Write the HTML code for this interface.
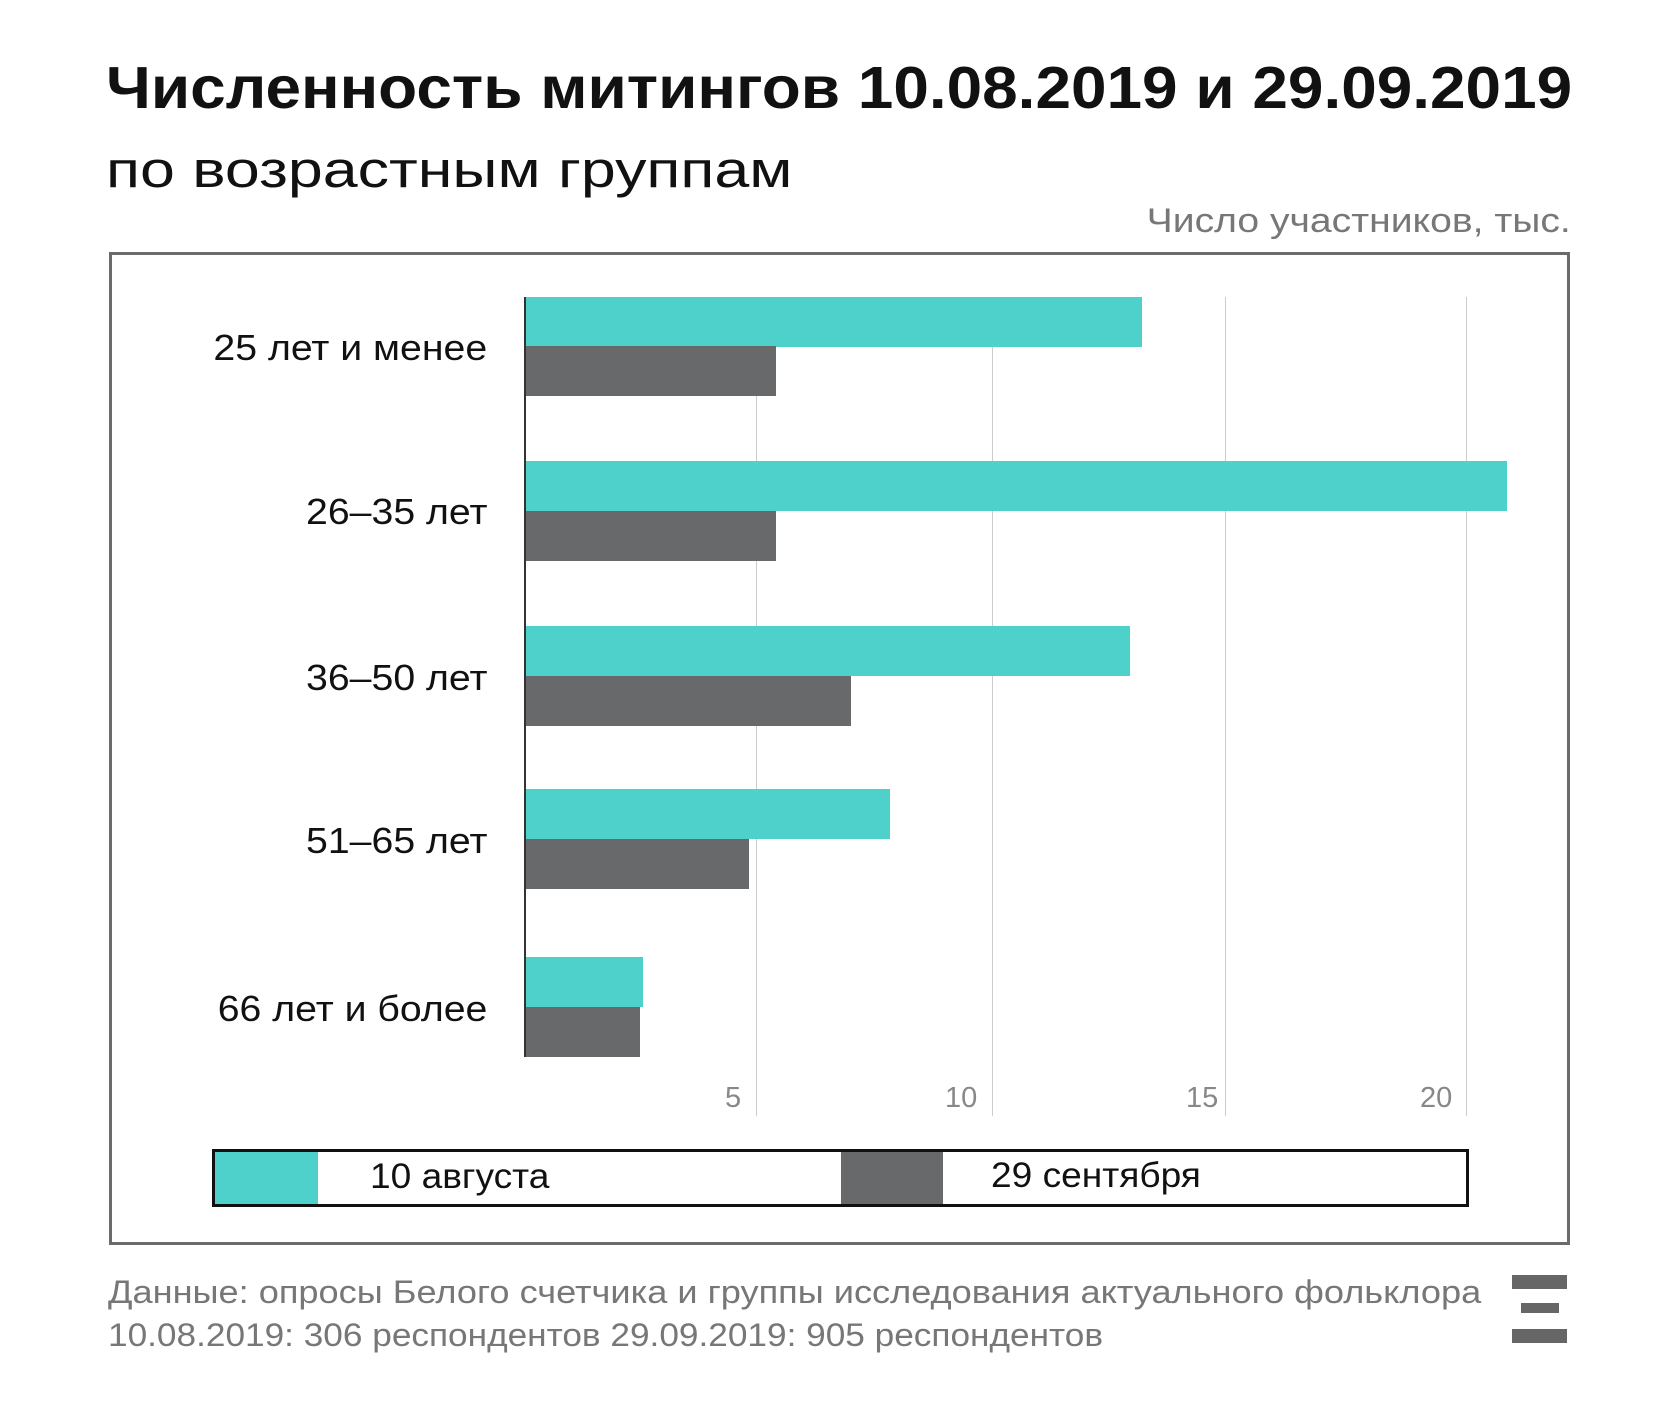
<!DOCTYPE html>
<html><head><meta charset="utf-8"><style>
body{margin:0;width:1680px;height:1428px;background:#fff;position:relative;overflow:hidden;font-family:"Liberation Sans","DejaVu Sans",sans-serif}
.a{position:absolute;white-space:nowrap}
.t{background:#4fd1cb;position:absolute;height:50px;left:525px}
.g{background:#68696b;position:absolute;height:50px;left:525px}
.gl{position:absolute;top:297px;height:819px;width:1px;background:#ccc}
.lab{position:absolute;right:1193px;font-size:36px;color:#111;transform:translateY(-50%) scaleX(1.09);transform-origin:right center;white-space:nowrap}
.tk{position:absolute;top:1082px;font-size:29px;color:#888}
</style></head><body>
<div class="a" style="left:106px;top:54px;font-size:59px;font-weight:bold;color:#111;transform:scaleX(1.083);transform-origin:left center">Численность митингов 10.08.2019 и 29.09.2019</div>
<div class="a" style="left:106px;top:140px;font-size:51px;color:#111;transform:scaleX(1.23);transform-origin:left center">по возрастным группам</div>
<div class="a" style="right:109px;top:202px;font-size:34px;color:#777;transform:scaleX(1.15);transform-origin:right center">Число участников, тыс.</div>
<div style="position:absolute;left:109px;top:252px;width:1455px;height:987px;border:3px solid #6b6b6b"></div>
<div class="gl" style="left:756px"></div><div class="gl" style="left:992px"></div><div class="gl" style="left:1225px"></div><div class="gl" style="left:1466px"></div>
<div class="tk" style="left:725px">5</div><div class="tk" style="left:945px">10</div><div class="tk" style="left:1186px">15</div><div class="tk" style="left:1420px">20</div>
<div class="t" style="top:297px;width:617px"></div><div class="g" style="top:346px;width:251px"></div>
<div class="t" style="top:461px;width:982px"></div><div class="g" style="top:511px;width:251px"></div>
<div class="t" style="top:626px;width:605px"></div><div class="g" style="top:676px;width:326px"></div>
<div class="t" style="top:789px;width:365px"></div><div class="g" style="top:839px;width:224px"></div>
<div class="t" style="top:957px;width:118px"></div><div class="g" style="top:1007px;width:115px"></div>
<div style="position:absolute;left:524px;top:297px;width:2px;height:760px;background:#333"></div>
<div class="lab" style="top:348px">25 лет и менее</div>
<div class="lab" style="top:512px">26–35 лет</div>
<div class="lab" style="top:678px">36–50 лет</div>
<div class="lab" style="top:841px">51–65 лет</div>
<div class="lab" style="top:1009px">66 лет и более</div>
<div style="position:absolute;left:212px;top:1149px;width:1251px;height:52px;border:3px solid #111"></div>
<div style="position:absolute;left:215px;top:1152px;width:103px;height:52px;background:#4fd1cb"></div>
<div style="position:absolute;left:841px;top:1152px;width:102px;height:52px;background:#68696b"></div>
<div class="a" style="left:370px;top:1157px;font-size:35px;color:#111;transform:scaleX(1.06);transform-origin:left center">10 августа</div>
<div class="a" style="left:991px;top:1156px;font-size:35px;color:#111;transform:scaleX(1.06);transform-origin:left center">29 сентября</div>
<div class="a" style="left:108px;top:1274px;font-size:32px;color:#777;transform:scaleX(1.13);transform-origin:left center">Данные: опросы Белого счетчика и группы исследования актуального фольклора</div>
<div class="a" style="left:108px;top:1317px;font-size:32px;color:#777;transform:scaleX(1.1);transform-origin:left center">10.08.2019: 306 респондентов 29.09.2019: 905 респондентов</div>
<div style="position:absolute;left:1512px;top:1275px;width:55px;height:14px;background:#666"></div>
<div style="position:absolute;left:1521px;top:1303px;width:38px;height:10px;background:#666"></div>
<div style="position:absolute;left:1512px;top:1329px;width:55px;height:14px;background:#666"></div>
</body></html>
